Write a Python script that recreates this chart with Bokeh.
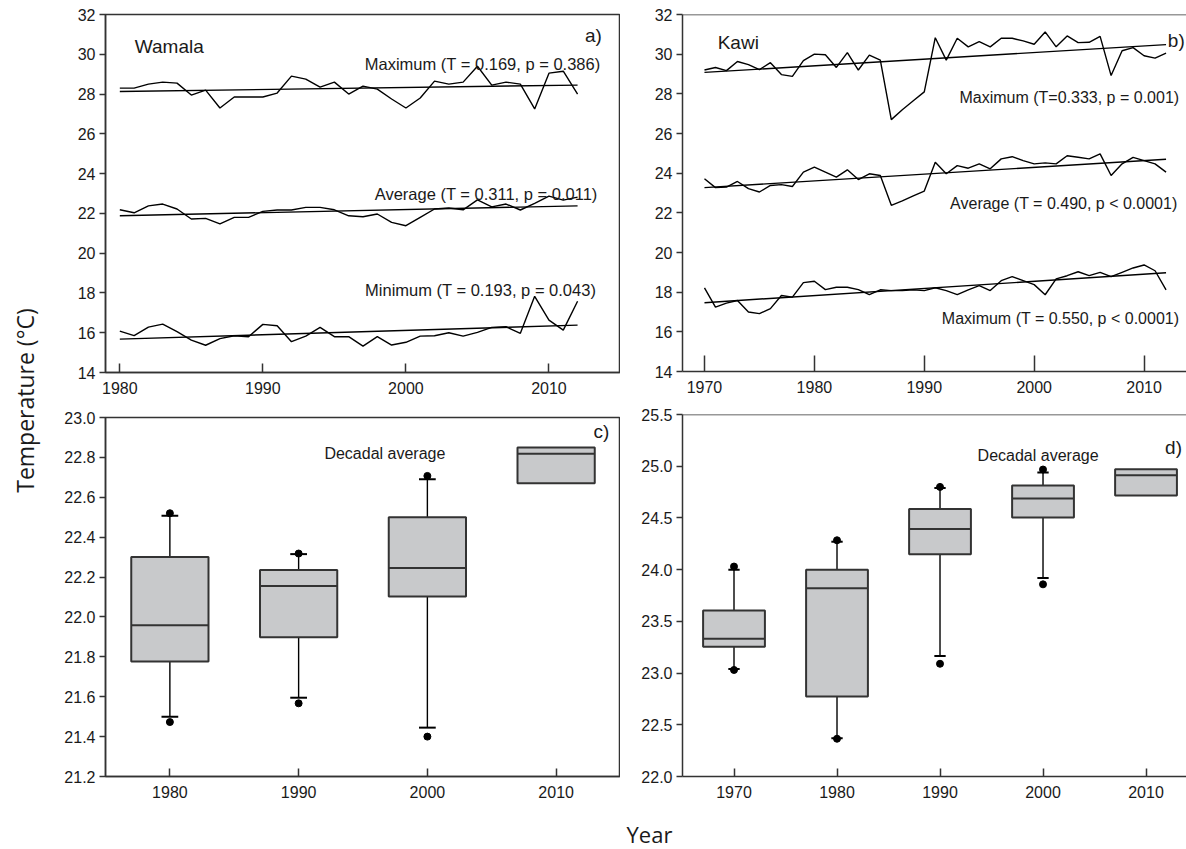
import math
from bokeh.plotting import figure
from bokeh.layouts import row, column
from bokeh.models import Label, Span, FixedTicker, NumeralTickFormatter
from bokeh.embed import file_html
from bokeh.resources import INLINE

# ---------------- data ----------------
years_wamala = list(range(1980, 2013))
wamala_max = [28.3, 28.3, 28.5, 28.6, 28.55, 27.95, 28.2, 27.3, 27.85, 27.85, 27.85, 28.05, 28.9,
              28.75, 28.35, 28.6, 28.0, 28.4, 28.25, 27.75, 27.3, 27.8, 28.65, 28.5, 28.6, 29.4,
              28.45, 28.6, 28.5, 27.25, 29.05, 29.15, 28.0]
wamala_avg = [22.18, 22.03, 22.38, 22.47, 22.22, 21.72, 21.75, 21.47, 21.8, 21.8, 22.1, 22.17, 22.17,
              22.3, 22.3, 22.18, 21.88, 21.83, 21.97, 21.55, 21.38, 21.8, 22.22, 22.27, 22.18, 22.68,
              22.33, 22.47, 22.17, 22.5, 22.87, 22.67, 22.82]
wamala_min = [16.08, 15.85, 16.28, 16.43, 16.05, 15.63, 15.37, 15.7, 15.85, 15.8, 16.42, 16.35, 15.55,
              15.83, 16.27, 15.8, 15.8, 15.33, 15.8, 15.38, 15.52, 15.83, 15.85, 16.0, 15.83, 16.02,
              16.27, 16.3, 15.97, 17.83, 16.63, 16.13, 17.58]
wamala_trend_max = [28.13, 28.45]
wamala_trend_avg = [21.88, 22.38]
wamala_trend_min = [15.68, 16.38]

years_kawi = list(range(1970, 2013))
kawi_max = [29.2, 29.33, 29.17, 29.63, 29.47, 29.22, 29.57, 28.97, 28.88, 29.67,
            30.0, 29.97, 29.33, 30.08, 29.2, 29.95, 29.7, 26.7, 27.2, 27.65,
            28.1, 30.83, 29.7, 30.8, 30.37, 30.63, 30.37, 30.8, 30.8, 30.67,
            30.5, 31.12, 30.37, 30.92, 30.58, 30.6, 30.9, 28.92, 30.17, 30.33,
            29.92, 29.8, 30.05]
kawi_avg = [23.72, 23.27, 23.3, 23.58, 23.22, 23.05, 23.38, 23.42, 23.33, 24.05,
            24.3, 24.05, 23.8, 24.17, 23.68, 23.97, 23.88, 22.38, 22.6, 22.85,
            23.1, 24.55, 23.97, 24.38, 24.25, 24.47, 24.22, 24.72, 24.83, 24.63,
            24.47, 24.52, 24.47, 24.88, 24.8, 24.72, 24.97, 23.88, 24.47, 24.8,
            24.63, 24.47, 24.05]
kawi_min = [18.22, 17.25, 17.45, 17.58, 17.0, 16.92, 17.17, 17.83, 17.75, 18.48,
            18.55, 18.13, 18.25, 18.25, 18.13, 17.88, 18.12, 18.08, 18.08, 18.12,
            18.08, 18.22, 18.08, 17.88, 18.12, 18.33, 18.08, 18.58, 18.78, 18.58,
            18.38, 17.87, 18.67, 18.83, 19.03, 18.83, 19.0, 18.78, 19.0, 19.22,
            19.37, 19.08, 18.12]
kawi_trend_max = [29.08, 30.48]
kawi_trend_avg = [23.27, 24.70]
kawi_trend_min = [17.47, 18.98]

# decadal boxes, Wamala
c_decades = [1980, 1990, 2000, 2010]
c_q1 = [21.777, 21.898, 22.102, 22.67]
c_med = [21.958, 22.155, 22.245, 22.818]
c_q3 = [22.30, 22.235, 22.50, 22.85]
c_whisk_decades = [1980, 1990, 2000]
c_whisk_lo = [21.50, 21.595, 21.445]
c_whisk_hi = [22.507, 22.315, 22.69]
c_out_x = [1980, 1980, 1990, 1990, 2000, 2000]
c_out_y = [22.52, 21.473, 22.318, 21.567, 22.707, 21.40]

# decadal boxes, Kawi
d_decades = [1970, 1980, 1990, 2000, 2010]
d_q1 = [23.255, 22.774, 24.148, 24.503, 24.716]
d_med = [23.332, 23.82, 24.394, 24.687, 24.913]
d_q3 = [23.606, 24.0, 24.587, 24.813, 24.971]
d_whisk_decades = [1970, 1980, 1990, 2000]
d_whisk_lo = [23.04, 22.37, 23.165, 23.919]
d_whisk_hi = [24.0, 24.27, 24.79, 24.94]
d_out_x = [1970, 1970, 1980, 1980, 1990, 1990, 2000, 2000]
d_out_y = [24.03, 23.03, 24.284, 22.365, 24.80, 23.09, 24.968, 23.858]

ticks_a = [1980, 1990, 2000, 2010]
ticks_b = [1970, 1980, 1990, 2000, 2010]
ticks_temp = list(range(14, 33, 2))
ticks_c = [21.2, 21.4, 21.6, 21.8, 22.0, 22.2, 22.4, 22.6, 22.8, 23.0]
ticks_d = [22.0, 22.5, 23.0, 23.5, 24.0, 24.5, 25.0, 25.5]

FONT = "Liberation Sans"
AX = "#333333"
TXT = "#1a1a1a"


def make_fig(w, h, xr, yr, ml, mt, mb, outline=True):
    p = figure(width=w, height=h, x_range=xr, y_range=yr, output_backend="svg",
               toolbar_location=None, min_border_left=ml, min_border_right=0,
               min_border_top=mt, min_border_bottom=mb)
    p.xgrid.visible = False
    p.ygrid.visible = False
    p.background_fill_color = "white"
    p.border_fill_color = "white"
    if outline:
        p.outline_line_color = AX
        p.outline_line_width = 1.5
    else:
        p.outline_line_color = None
    for ax in p.axis:
        ax.axis_line_color = AX
        ax.axis_line_width = 1.5
        ax.major_tick_line_color = AX
        ax.major_tick_line_width = 1.5
        ax.minor_tick_line_color = None
        ax.major_label_text_font = FONT
        ax.major_label_text_font_size = "16px"
        ax.major_label_text_color = TXT
    p.yaxis.major_tick_in = 0
    p.yaxis.major_tick_out = 6
    p.yaxis.major_label_standoff = 4
    p.xaxis.major_tick_out = 0
    p.xaxis.major_label_standoff = 9
    return p


def lab(p, x, y, text, size, align="left"):
    p.add_layout(Label(x=x, y=y, text=text, text_font=FONT, text_font_size=size,
                       text_color=TXT, text_align=align, text_baseline="alphabetic"))


def blank(w, h):
    f = figure(width=w, height=h, x_range=(0, 1), y_range=(0, 1), output_backend="svg",
               toolbar_location=None, min_border=0, x_axis_type=None, y_axis_type=None)
    f.outline_line_color = None
    f.grid.visible = False
    f.background_fill_color = "white"
    f.border_fill_color = "white"
    return f


# ---------- left label strip ----------
strip = blank(50, 819)
strip.add_layout(Label(x=24, y=419, x_units="screen", y_units="screen",
                       text="Temperature (°C)", angle=math.pi / 2, text_font="Open Sans",
                       text_font_size="23px", text_color=TXT, text_align="center",
                       text_baseline="middle"))

# ---------- bottom label strip ----------
bottom = blank(1186, 30)
bottom.add_layout(Label(x=649, y=16, x_units="screen", y_units="screen", text="Year",
                        text_font="Open Sans", text_font_size="22px", text_color=TXT,
                        text_align="center", text_baseline="middle"))

# ---------- panel a ----------
pa = make_fig(570, 400, (1979, 2015), (14, 32), 54, 14, 28)
pa.xaxis.ticker = FixedTicker(ticks=ticks_a)
pa.yaxis.ticker = FixedTicker(ticks=ticks_temp)
pa.xaxis.major_tick_in = 9
for ser, tr in [(wamala_max, wamala_trend_max), (wamala_avg, wamala_trend_avg), (wamala_min, wamala_trend_min)]:
    pa.line(years_wamala, ser, line_color="black", line_width=1.4)
    pa.line([years_wamala[0], years_wamala[-1]], tr, line_color="black", line_width=1.4)
lab(pa, 1981.05, 30.38, "Wamala", "19px")
lab(pa, 2013.7, 30.95, "a)", "19px", "right")
lab(pa, 2013.6, 29.5, "Maximum (T = 0.169, p = 0.386)", "16.5px", "right")
lab(pa, 2013.4, 22.97, "Average (T = 0.311, p = 0.011)", "16.5px", "right")
lab(pa, 2013.3, 18.13, "Minimum (T = 0.193, p = 0.043)", "16.5px", "right")

# ---------- panel b ----------
pb = make_fig(566, 400, (1968, 2013.86), (14, 32), 62, 14, 29, outline=False)
pb.xaxis.ticker = FixedTicker(ticks=ticks_b)
pb.yaxis.ticker = FixedTicker(ticks=ticks_temp)
pb.xaxis.major_tick_in = 16
pb.add_layout(Span(location=32, dimension="width", line_color=AX, line_width=1.5))
for ser, tr in [(kawi_max, kawi_trend_max), (kawi_avg, kawi_trend_avg), (kawi_min, kawi_trend_min)]:
    pb.line(years_kawi, ser, line_color="black", line_width=1.4)
    pb.line([years_kawi[0], years_kawi[-1]], tr, line_color="black", line_width=1.4)
lab(pb, 1971.2, 30.6, "Kawi", "19px")
lab(pb, 2013.7, 30.69, "b)", "19px", "right")
lab(pb, 1993.2, 27.83, "Maximum (T=0.333, p = 0.001)", "16px")
lab(pb, 1992.35, 22.47, "Average (T = 0.490, p < 0.0001)", "16px")
lab(pb, 1991.6, 16.67, "Maximum (T = 0.550, p < 0.0001)", "16px")


def boxes(p, dec, q1, med, q3, wd, wlo, whi, ox, oy, cap):
    p.segment(x0=wd, x1=wd, y0=wlo, y1=[q1[dec.index(d)] for d in wd], line_color="black", line_width=1.4)
    p.segment(x0=wd, x1=wd, y0=[q3[dec.index(d)] for d in wd], y1=whi, line_color="black", line_width=1.4)
    p.segment(x0=[d - cap for d in wd], x1=[d + cap for d in wd], y0=wlo, y1=wlo, line_color="black", line_width=2)
    p.segment(x0=[d - cap for d in wd], x1=[d + cap for d in wd], y0=whi, y1=whi, line_color="black", line_width=2)
    p.vbar(x=dec, width=6, bottom=q1, top=q3, fill_color="#c8c9cb", line_color=AX, line_width=2)
    p.segment(x0=[d - 3 for d in dec], x1=[d + 3 for d in dec], y0=med, y1=med, line_color=AX, line_width=2)
    p.scatter(ox, oy, size=7, color="black")


# ---------- panel c ----------
pc = make_fig(570, 419, (1975, 2015), (21.2, 23.0), 55, 17, 43)
pc.xaxis.ticker = FixedTicker(ticks=c_decades)
pc.yaxis.ticker = FixedTicker(ticks=ticks_c)
pc.yaxis.formatter = NumeralTickFormatter(format="0.0")
pc.xaxis.major_tick_in = 8
boxes(pc, c_decades, c_q1, c_med, c_q3, c_whisk_decades, c_whisk_lo, c_whisk_hi,
      c_out_x, c_out_y, 0.65)
lab(pc, 1992.0, 22.82, "Decadal average", "16px")
lab(pc, 2012.9, 22.93, "c)", "19px")

# ---------- panel d ----------
pd_ = make_fig(566, 419, (1965, 2013.93), (22.0, 25.5), 62, 14, 43, outline=False)
pd_.xaxis.ticker = FixedTicker(ticks=d_decades)
pd_.yaxis.ticker = FixedTicker(ticks=ticks_d)
pd_.yaxis.formatter = NumeralTickFormatter(format="0.0")
pd_.xaxis.major_tick_in = 8
pd_.add_layout(Span(location=25.5, dimension="width", line_color=AX, line_width=1.5))
boxes(pd_, d_decades, d_q1, d_med, d_q3, d_whisk_decades, d_whisk_lo, d_whisk_hi,
      d_out_x, d_out_y, 0.55)
lab(pd_, 1993.65, 25.10, "Decadal average", "16px")
lab(pd_, 2011.85, 25.18, "d)", "19px")

layout = column(row(strip, column(pa, pc), column(pb, pd_)), bottom)
open("out.html", "w").write(file_html(layout, INLINE))
